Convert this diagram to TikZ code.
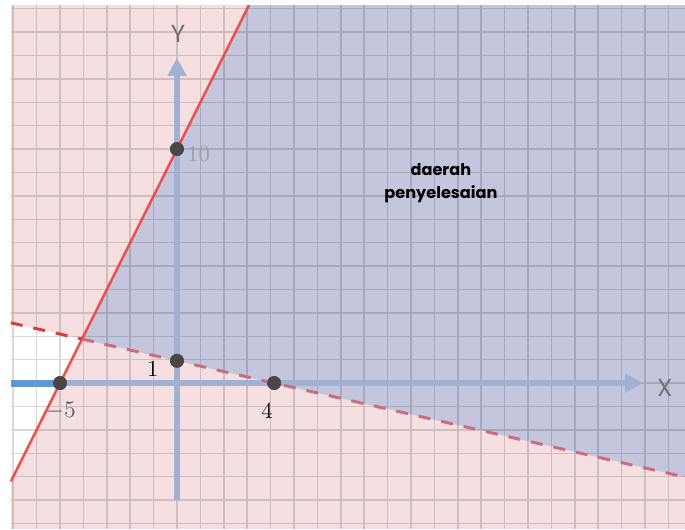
\documentclass[tikz,border=0pt]{standalone}
\usepackage{fontspec}
\newfontfamily\gothic{Poppins}
\usetikzlibrary{arrows.meta}
\definecolor{blush}{HTML}{F5DFE1}
\definecolor{lavender}{HTML}{C4C6DE}
\definecolor{axisblue}{HTML}{A0B2D3}
\definecolor{brightblue}{HTML}{5B9BD5}
\definecolor{redline}{HTML}{E8504A}
\definecolor{dashred}{HTML}{E03A36}
\definecolor{dashmuted}{HTML}{C96C7E}
\definecolor{dotgrey}{HTML}{4A4646}
\definecolor{labelgrey}{HTML}{9A9AA6}

\begin{document}
\begin{tikzpicture}[x=0.5cm,y=0.5cm,
  axis/.style={line width=3.6pt, color=axisblue, -{Triangle[length=11pt,width=11pt]}},
  dot/.style={circle, fill=dotgrey, inner sep=0pt, minimum size=8.4pt},
  tick/.style={font=\fontsize{14}{16}\selectfont},
  axislabel/.style={text=black!55, font=\gothic\fontsize{15}{17}\selectfont},
  boundary/.style={line width=1.8pt, dash pattern=on 7.3pt off 6.7pt}]
  \useasboundingbox (-7.564,-6.24) rectangle (21.71,16.37);
  \fill[blush] (-7.1,-6.24) rectangle (21.71,16.15);
  \coordinate (corner) at (-4.06,1.88);
  \coordinate (rlow) at (-7.1,-4.2);
  \coordinate (rhigh) at (3.075,16.15);
  \coordinate (dleft) at (-7.1,2.575);
  \coordinate (dright) at (21.71,-4.02);
  \fill[white] (dleft) -- (corner) -- (rlow) -- cycle;
  \fill[lavender] (corner) -- (rhigh) -- (21.71,16.15) -- (dright) -- cycle;
  \draw[black, opacity=0.15, line width=0.9pt, step=0.5cm] (-7.1,-6.24) grid (21.71,16.15);

  \coordinate (xstart) at (-7.1,0);
  \coordinate (xend) at (19.92,0);
  \coordinate (ystart) at (0,-5);
  \coordinate (yend) at (0,13.9);
  \draw[axis] (xstart) -- (xend);
  \draw[axis] (ystart) -- (yend);

  \node[dot] (m5) at (-5,0) {};
  \node[dot] (p10) at (0,10) {};
  \node[dot] (p1) at (0,0.95) {};
  \node[dot] (p4) at (4.15,0) {};

  \draw[line width=4.2pt, brightblue] (xstart) -- (m5.center);
  \draw[redline, line width=1.5pt] (rlow) -- (rhigh);
  \draw[boundary, dashred] (dleft) -- (corner);
  \draw[boundary, dashmuted] (corner) -- (dright);
  \foreach \p in {m5,p10,p1,p4}
    {\fill[dotgrey] (\p) circle (4.2pt);}

  \node[tick, text=labelgrey, anchor=west, inner sep=0pt] (l10) at (0.43,9.8) {10};
  \node[tick] (l1) at (-1.03,0.6) {1};
  \node[tick] (l4) at (3.85,-1.2) {4};
  \node[tick, text=black!65] (lm5) at (-4.97,-1.2) {$-5$};
  \node[axislabel] (ly) at (0.05,14.9) {Y};
  \node[axislabel] (lx) at (20.85,-0.2) {X};
  \node[align=center, font=\gothic\bfseries\fontsize{9.8}{14}\selectfont] (region) at (11.28,8.55) {daerah\\penyelesaian};
\end{tikzpicture}
\end{document}
